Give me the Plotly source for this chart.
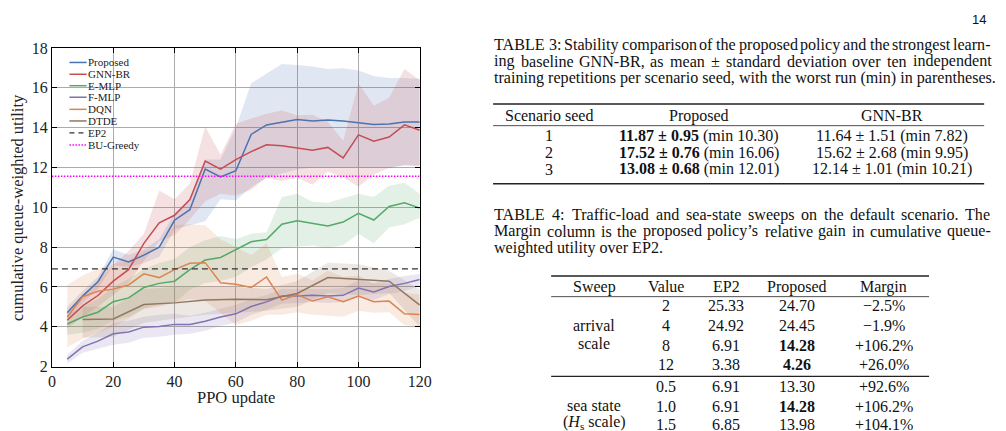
import plotly.graph_objects as go

W, H = 1006, 431

# ---------------- chart data ----------------
x_updates = list(range(5, 125, 5))
x_dtde = list(range(10, 130, 10))

proposed_mean = [4.70, 5.54, 6.26, 7.50, 7.26, 7.60, 8.00, 9.35, 9.88, 11.92, 11.53, 11.84,
                 13.66, 14.14, 14.27, 14.41, 14.33, 14.38, 14.33, 14.25, 14.16, 14.19, 14.28, 14.28]
proposed_lo = [4.40, 5.20, 5.90, 7.10, 7.00, 7.20, 7.50, 8.90, 9.10, 9.30, 10.40, 10.35,
               11.00, 11.50, 11.70, 11.90, 12.00, 12.00, 12.00, 12.00, 12.00, 12.00, 12.10, 12.10]
proposed_hi = [5.00, 5.80, 6.50, 7.90, 7.60, 7.90, 8.40, 9.70, 10.40, 12.40, 12.40, 14.00,
               16.23, 16.71, 17.20, 17.15, 17.07, 16.95, 16.98, 16.87, 16.60, 16.50, 16.50, 16.44]

gnnbr_mean = [4.33, 5.05, 5.57, 6.29, 6.87, 8.19, 9.22, 9.60, 10.39, 12.32, 11.92, 12.40,
              12.80, 13.14, 13.09, 12.98, 12.87, 13.01, 12.48, 13.64, 13.32, 13.53, 14.14, 13.87]
gnnbr_lo = [3.90, 4.50, 5.00, 5.60, 6.20, 7.30, 8.30, 8.60, 9.40, 10.30, 10.68, 10.60,
            10.90, 11.48, 11.32, 11.48, 11.13, 11.80, 11.48, 11.04, 11.65, 11.97, 12.13, 12.05]
gnnbr_hi = [4.80, 5.60, 6.30, 7.10, 7.80, 8.67, 10.84, 10.40, 11.20, 14.06, 12.64, 14.20,
            14.46, 14.70, 14.86, 14.62, 14.65, 14.30, 13.34, 16.23, 15.10, 15.50, 16.95, 16.39]

emlp_mean = [4.14, 4.49, 4.73, 5.26, 5.45, 5.97, 6.18, 6.29, 6.87, 7.35, 7.48, 7.87,
             8.27, 8.38, 9.15, 9.33, 9.20, 9.06, 9.26, 9.70, 9.36, 10.04, 10.23, 9.96]
emlp_lo = [3.60, 3.70, 3.90, 4.30, 4.50, 4.90, 5.10, 5.20, 5.86, 6.20, 6.30, 6.50,
           7.00, 7.38, 7.95, 8.03, 8.08, 7.95, 8.11, 8.67, 8.19, 8.99, 9.15, 9.48]
emlp_hi = [4.60, 5.00, 5.40, 6.00, 6.40, 6.90, 7.20, 7.40, 8.00, 8.35, 8.56, 8.40,
           8.67, 8.75, 10.52, 10.68, 10.28, 10.23, 10.44, 10.68, 10.52, 11.08, 11.24, 10.68]

fmlp_mean = [2.37, 2.99, 3.28, 3.65, 3.74, 3.98, 4.01, 4.12, 4.12, 4.28, 4.49, 4.65,
             5.02, 5.25, 5.54, 5.54, 5.58, 5.54, 5.58, 5.94, 5.75, 6.02, 6.18, 6.37]
fmlp_lo = [2.15, 2.70, 2.90, 3.10, 3.20, 3.45, 3.50, 3.60, 3.65, 3.80, 4.05, 4.20,
           4.60, 4.85, 5.15, 5.20, 5.25, 5.20, 5.25, 5.50, 5.35, 5.65, 5.80, 6.05]
fmlp_hi = [2.60, 3.30, 3.70, 4.20, 4.30, 4.50, 4.60, 4.65, 4.55, 4.70, 4.90, 5.10,
           5.40, 5.60, 5.90, 5.90, 5.90, 5.90, 5.95, 6.34, 6.20, 6.40, 6.55, 6.65]

dqn_mean = [4.49, 5.50, 5.78, 5.89, 6.10, 6.66, 6.47, 6.87, 7.19, 7.22, 6.21, 6.13,
            5.97, 6.50, 5.34, 5.62, 5.29, 5.50, 5.26, 5.54, 5.26, 5.29, 4.65, 4.62]
dqn_lo = [2.97, 3.40, 3.70, 4.00, 4.40, 4.90, 5.00, 5.20, 5.40, 5.30, 4.70, 4.09,
          4.30, 4.60, 4.60, 4.73, 4.60, 4.54, 4.50, 4.81, 4.70, 4.73, 4.09, 4.00]
dqn_hi = [6.10, 6.58, 6.90, 7.14, 7.30, 7.80, 8.00, 9.10, 9.15, 9.10, 8.40, 8.00,
          7.60, 8.19, 6.50, 6.66, 6.34, 6.82, 6.50, 6.58, 6.18, 6.18, 5.70, 5.62]

dtde_mean = [4.37, 4.39, 5.12, 5.20, 5.34, 5.38, 5.36, 5.67, 6.47, 6.39, 6.29, 5.09]
dtde_lo = [3.45, 3.50, 4.20, 4.40, 4.60, 4.70, 4.80, 5.00, 5.70, 5.60, 5.70, 4.00]
dtde_hi = [5.00, 5.00, 5.90, 6.00, 6.00, 6.00, 5.90, 6.30, 7.22, 7.14, 6.82, 5.86]

ep2_level = 6.91
bu_greedy_level = 11.56

series_names = ["Proposed", "GNN-BR", "E-MLP", "F-MLP", "DQN", "DTDE"]
series_colors = ["#4C72B0", "#C44E52", "#55A868", "#8172B2", "#DD8452", "#937860"]

x_ticks = [0, 20, 40, 60, 80, 100, 120]
y_ticks = [2, 4, 6, 8, 10, 12, 14, 16, 18]
x_title = "PPO update"
y_title = "cumulative queue-weighted utility"

# ---------------- table data ----------------
t3_caption = ["TABLE 3: Stability comparison of the proposed policy and the strongest learn-",
              "ing baseline GNN-BR, as mean \u00b1 standard deviation over ten independent",
              "training repetitions per scenario seed, with the worst run (min) in parentheses."]
t3_header = ["Scenario seed", "Proposed", "GNN-BR"]
t3_seeds = ["1", "2", "3"]
t3_prop_mean = [11.87, 17.52, 13.08]
t3_prop_std = [0.95, 0.76, 0.68]
t3_prop_min = [10.30, 16.06, 12.01]
t3_gnn_mean = [11.64, 15.62, 12.14]
t3_gnn_std = [1.51, 2.68, 1.01]
t3_gnn_min = [7.82, 9.95, 10.21]

t4_caption = ["TABLE 4: Traffic-load and sea-state sweeps on the default scenario. The",
              "Margin column is the proposed policy\u2019s relative gain in cumulative queue-",
              "weighted utility over EP2."]
t4_header = ["Sweep", "Value", "EP2", "Proposed", "Margin"]
t4_values = ["2", "4", "8", "12", "0.5", "1.0", "1.5"]
t4_ep2 = [25.33, 24.92, 6.91, 3.38, 6.91, 6.91, 6.85]
t4_prop = [24.70, 24.45, 14.28, 4.26, 13.30, 14.28, 13.98]
t4_margin = ["\u22122.5%", "\u22121.9%", "+106.2%", "+26.0%", "+92.6%", "+106.2%", "+104.1%"]
t4_bold = [False, False, True, True, False, True, False]
page_number = "14"

# ---------------- helpers ----------------
def X(px):
    return px / W

def Y(py):
    return 1 - py / H

def rgba(hx, a):
    hx = hx.lstrip("#")
    r, g, b = int(hx[0:2], 16), int(hx[2:4], 16), int(hx[4:6], 16)
    return f"rgba({r},{g},{b},{a})"

TIMES = {' ': 250, '!': 333, '(': 333, ')': 333, '+': 564, ',': 250, '-': 333, '.': 250, ':': 278,
         'A': 722, 'B': 667, 'C': 667, 'D': 722, 'E': 611, 'F': 556, 'G': 722, 'H': 722, 'I': 333,
         'L': 611, 'M': 889, 'N': 722, 'O': 722, 'P': 556, 'R': 667, 'S': 556, 'T': 611, 'W': 944,
         'a': 444, 'b': 500, 'c': 444, 'd': 500, 'e': 444, 'f': 333, 'g': 500, 'h': 500, 'i': 278,
         'j': 278, 'k': 500, 'l': 278, 'm': 778, 'n': 500, 'o': 500, 'p': 500, 'q': 500, 'r': 333,
         's': 389, 't': 278, 'u': 500, 'v': 500, 'w': 722, 'x': 500, 'y': 500, 'z': 444,
         '\u00b1': 564, '\u2019': 333, '\u2212': 564}

def tw(s, size):
    return sum(TIMES.get(c, 500) for c in s) / 1000.0 * size

SERIF = "Liberation Serif, Times New Roman, serif"
CAP_SIZE = 16.1
TAB_SIZE = 16
TXT = "#111111"

fig = go.Figure()

band_data = [(x_updates, proposed_lo, proposed_hi), (x_updates, gnnbr_lo, gnnbr_hi),
             (x_updates, emlp_lo, emlp_hi), (x_updates, fmlp_lo, fmlp_hi),
             (x_updates, dqn_lo, dqn_hi), (x_dtde, dtde_lo, dtde_hi)]
line_data = [(x_updates, proposed_mean), (x_updates, gnnbr_mean), (x_updates, emlp_mean),
             (x_updates, fmlp_mean), (x_updates, dqn_mean), (x_dtde, dtde_mean)]

for (xs, lo, hi), name, col in zip(band_data, series_names, series_colors):
    fig.add_trace(go.Scatter(x=xs + xs[::-1], y=hi + lo[::-1], fill="toself",
                             fillcolor=rgba(col, 0.17), line=dict(width=0), mode="lines",
                             hoverinfo="skip", showlegend=False, name=name + " band"))

for (xs, ys), name, col in zip(line_data, series_names, series_colors):
    fig.add_trace(go.Scatter(x=xs, y=ys, mode="lines", name=name,
                             line=dict(color=col, width=1.5), showlegend=False))

fig.add_trace(go.Scatter(x=[0, 120], y=[ep2_level, ep2_level], mode="lines", name="EP2",
                         line=dict(color="#333333", width=1.3, dash="6px,4px"), showlegend=False))
fig.add_trace(go.Scatter(x=[0, 120], y=[bu_greedy_level, bu_greedy_level], mode="lines",
                         name="BU-Greedy",
                         line=dict(color="#FF00FF", width=1.6, dash="1.5px,1.5px"), showlegend=False))

PL, PR, PT, PB = 48.7, 422.5, 41.7, 373.3
x_dom = [PL / W, PR / W]
y_dom = [1 - PB / H, 1 - PT / H]

axis_common = dict(showgrid=True, gridcolor="#ababab", gridwidth=0.8, showline=True,
                   linecolor="black", linewidth=1, mirror="ticks", ticks="inside", ticklen=5,
                   tickcolor="black", zeroline=False,
                   tickfont=dict(family=SERIF, size=16, color="#222222"))

fig.update_layout(
    width=W, height=H, margin=dict(l=0, r=0, t=0, b=0),
    paper_bgcolor="white", plot_bgcolor="white", showlegend=False,
    xaxis=dict(domain=x_dom, range=[0, 120], tickvals=x_ticks, **axis_common),
    yaxis=dict(domain=y_dom, range=[2, 18], tickvals=y_ticks, **axis_common),
)

shapes = []
annotations = []

# axis titles
annotations.append(dict(xref="paper", yref="paper", x=X((PL + PR) / 2), y=Y(406), text=x_title,
                        showarrow=False, xanchor="center", yanchor="middle",
                        font=dict(family=SERIF, size=16.5, color="#222222")))
annotations.append(dict(xref="paper", yref="paper", x=X(14), y=Y((PT + PB) / 2), text=y_title,
                        showarrow=False, xanchor="center", yanchor="middle", textangle=-90,
                        font=dict(family=SERIF, size=16.5, color="#222222")))

# custom legend
legend_y = [56.7, 69.0, 80.9, 92.9, 105.5, 117.6, 130.0, 142.6]
legend_labels = series_names + ["EP2", "BU-Greedy"]
legend_styles = [dict(color=c, width=1.5) for c in series_colors] + [
    dict(color="#333333", width=1.3, dash="5px,4px"), dict(color="#FF00FF", width=1.5, dash="1.5px,1.5px")]
for ly, lab, st in zip(legend_y, legend_labels, legend_styles):
    shapes.append(dict(type="line", xref="paper", yref="paper", x0=X(66.5), x1=X(84), y0=Y(ly), y1=Y(ly),
                       line=st))
    annotations.append(dict(xref="paper", yref="paper", x=X(83.5), y=Y(ly), text=lab, showarrow=False,
                            xanchor="left", yanchor="middle", font=dict(family=SERIF, size=11, color="#222222")))


def add_text(px, py, text, size=TAB_SIZE, anchor="center", family=SERIF):
    annotations.append(dict(xref="paper", yref="paper", x=X(px), y=Y(py), text=text, showarrow=False,
                            xanchor=anchor, yanchor="middle", font=dict(family=family, size=size, color=TXT)))


def justified(line, x0, x1, py, size=CAP_SIZE):
    words = line.split(" ")
    total = sum(tw(w, size) for w in words)
    gap = (x1 - x0 - total) / (len(words) - 1)
    x = x0
    for w in words:
        add_text(x, py, w, size, "left")
        x += tw(w, size) + gap


def hline(x0, x1, py, width):
    shapes.append(dict(type="line", xref="paper", yref="paper", x0=X(x0), x1=X(x1), y0=Y(py), y1=Y(py),
                       line=dict(color="#222222", width=width)))

# page number
add_text(1000, 12, page_number, size=13, anchor="right", family="Liberation Sans, Arial, sans-serif")

CAP_L, CAP_R = 496, 1000
# table 3 caption
cap3_y = [38.3, 55.5, 72.5]
justified(t3_caption[0], CAP_L, CAP_R, cap3_y[0])
justified(t3_caption[1], CAP_L, CAP_R, cap3_y[1])
add_text(CAP_L, cap3_y[2], t3_caption[2], size=CAP_SIZE, anchor="left")

# table 3
T3_L, T3_R = 497, 996
t3_cols = [554, 706, 902]
hline(T3_L, T3_R, 100, 1.4)
for cx, h in zip(t3_cols, t3_header):
    add_text(cx, 112, h)
hline(T3_L, T3_R, 122.5, 0.8)
t3_rows_y = [133, 150.5, 168]
for i, ry in enumerate(t3_rows_y):
    add_text(t3_cols[0], ry, t3_seeds[i])
    add_text(t3_cols[1], ry, f"<b>{t3_prop_mean[i]:.2f} \u00b1 {t3_prop_std[i]:.2f}</b> (min {t3_prop_min[i]:.2f})")
    add_text(t3_cols[2], ry, f"{t3_gnn_mean[i]:.2f} \u00b1 {t3_gnn_std[i]:.2f} (min {t3_gnn_min[i]:.2f})")
hline(T3_L, T3_R, 183, 1.4)

# table 4 caption
cap4_y = [215, 232.5, 250]
justified(t4_caption[0], CAP_L, CAP_R, cap4_y[0])
justified(t4_caption[1], CAP_L, CAP_R, cap4_y[1])
add_text(CAP_L, cap4_y[2], t4_caption[2], size=CAP_SIZE, anchor="left")

# table 4
T4_L, T4_R = 556, 940
t4_cols = [600, 673, 734, 806, 894]
hline(T4_L, T4_R, 279, 1.4)
for cx, h in zip(t4_cols, t4_header):
    add_text(cx, 290, h)
hline(T4_L, T4_R, 300.5, 0.8)
t4_rows_y = [310, 331, 351.5, 371.5, 394, 414.5, 433.5]
for i, ry in enumerate(t4_rows_y):
    add_text(t4_cols[1], ry, t4_values[i])
    add_text(t4_cols[2], ry, f"{t4_ep2[i]:.2f}")
    pv = f"{t4_prop[i]:.2f}"
    add_text(t4_cols[3], ry, f"<b>{pv}</b>" if t4_bold[i] else pv)
    add_text(t4_cols[4], ry, t4_margin[i])
add_text(t4_cols[0], 331, "arrival")
add_text(t4_cols[0], 349, "scale")
hline(T4_L, T4_R, 383.5, 1.2)
add_text(t4_cols[0], 413.5, "sea state")
add_text(t4_cols[0], 432, "(<i>H</i><sub>s</sub> scale)")

fig.update_layout(shapes=shapes, annotations=annotations)

fig.write_html("out.html")
